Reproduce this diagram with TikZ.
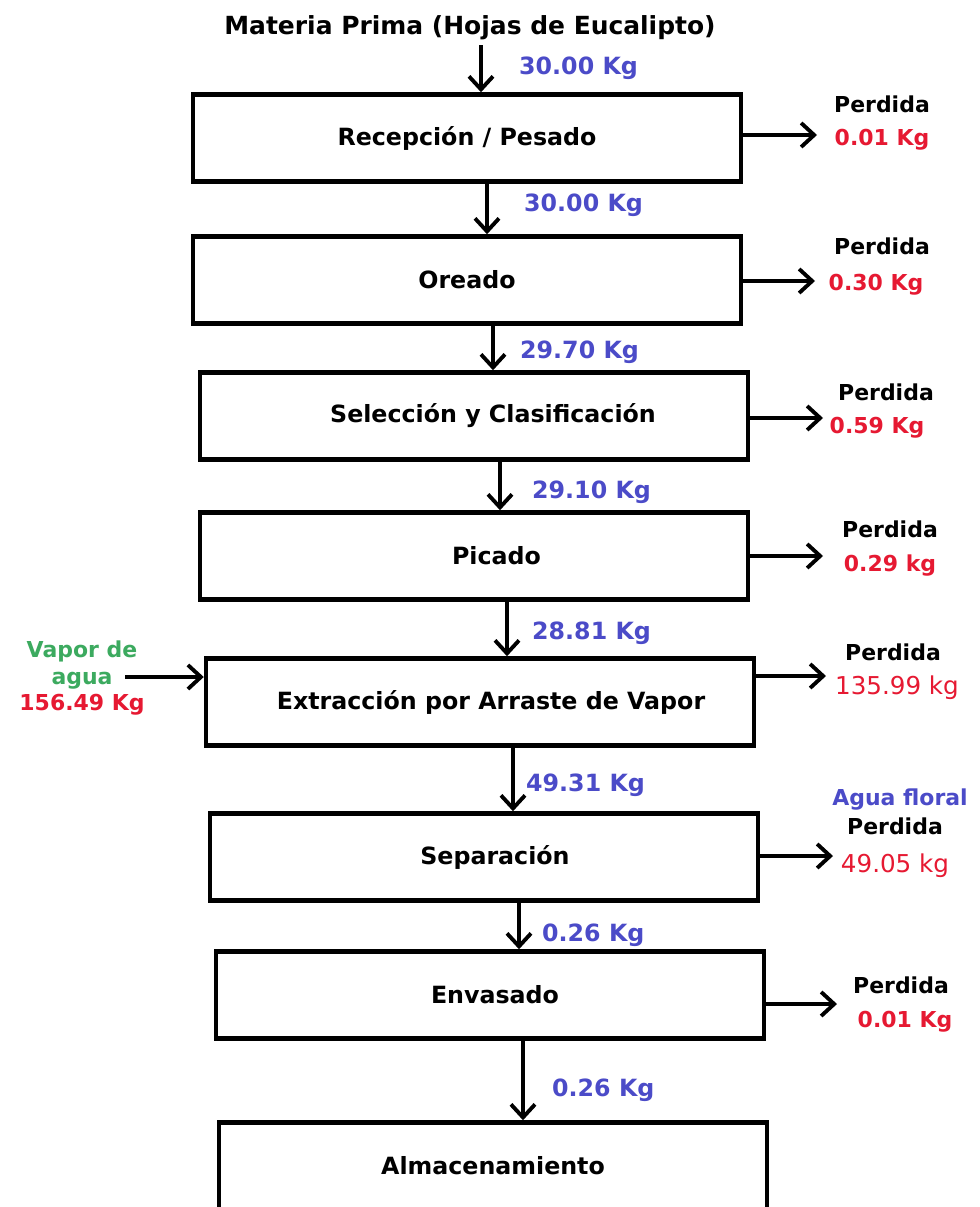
\documentclass[tikz,border=0pt]{standalone}
\usepackage{fontspec}
\setmainfont{DejaVu Sans}
\usetikzlibrary{arrows.meta}
\definecolor{flujo}{RGB}{75,75,200}
\definecolor{merma}{RGB}{230,25,50}
\definecolor{vapor}{RGB}{60,170,95}
\newcommand{\corrx}[1]{\hspace*{#1}}

\begin{document}
\begin{tikzpicture}[x=0.02cm,y=-0.02cm,
	caja/.style={draw,line width=2.6pt,minimum width=10.96cm,minimum height=1.74cm,font=\bfseries\fontsize{13.5}{16}\selectfont},
	flecha/.style={line width=2.2pt,-{Straight Barb[length=2.6mm,width=4.8mm]}},
	masa/.style={anchor=west,text=flujo,font=\bfseries\fontsize{13.5}{16}\selectfont},
	negro/.style={font=\bfseries\fontsize{12.5}{15}\selectfont},
	rojo/.style={text=merma,font=\bfseries\fontsize{12.5}{15}\selectfont},
	rojofino/.style={text=merma,font=\fontsize{14}{16}\selectfont}]
		\useasboundingbox (0,0) rectangle (980,1207);
		\clip (0,0) rectangle (980,1207);
		\fill[white] (0,0) rectangle (980,1207);

		\node[negro,font=\bfseries\fontsize{14.2}{16}\selectfont] (mp) at (470,28) {Materia Prima (Hojas de Eucalipto)};

		\node[caja] (rec) at (467,138) {Recepción / Pesado};
		\node[caja] (ore) at (467,280) {Oreado};
		\node[caja] (sel) at (474,416) {\corrx{0.76cm}Selección y Clasificación};
		\node[caja] (pic) at (474,556) {\corrx{0.9cm}Picado};
		\node[caja] (ext) at (480,702) {\corrx{0.44cm}Extracción por Arraste de Vapor};
		\node[caja] (sep) at (484,857) {\corrx{0.44cm}Separación};
		\node[caja] (env) at (490,995) {\corrx{0.2cm}Envasado};
		\node[caja] (alm) at (493,1166) {Almacenamiento};

		\coordinate (a1) at (481,45);
		\coordinate (a2) at (487,0);
		\coordinate (a3) at (493,0);
		\coordinate (a4) at (500,0);
		\coordinate (a5) at (507,0);
		\coordinate (a6) at (513,0);
		\coordinate (a7) at (519,0);
		\coordinate (a8) at (523,0);

		\draw[flecha] (a1) -- (a1 |- rec.north);
		\draw[flecha] (rec.south -| a2) -- (ore.north -| a2);
		\draw[flecha] (ore.south -| a3) -- (sel.north -| a3);
		\draw[flecha] (sel.south -| a4) -- (pic.north -| a4);
		\draw[flecha] (pic.south -| a5) -- (ext.north -| a5);
		\draw[flecha] (ext.south -| a6) -- (sep.north -| a6);
		\draw[flecha] (sep.south -| a7) -- (env.north -| a7);
		\draw[flecha] (env.south -| a8) -- (alm.north -| a8);

		\node[masa] (m1) at (513,68) {30.00 Kg};
		\node[masa] (m2) at (518,205) {30.00 Kg};
		\node[masa] (m3) at (514,352) {29.70 Kg};
		\node[masa] (m4) at (526,492) {29.10 Kg};
		\node[masa] (m5) at (526,633) {28.81 Kg};
		\node[masa] (m6) at (520,785) {49.31 Kg};
		\node[masa] (m7) at (536,935) {0.26 Kg};
		\node[masa] (m8) at (546,1090) {0.26 Kg};

		\coordinate (p1) at (817,135);
		\coordinate (p2) at (815,281);
		\coordinate (p3) at (823,418);
		\coordinate (p4) at (823,556);
		\coordinate (p5) at (826,676);
		\coordinate (p6) at (833,856);
		\coordinate (p7) at (837,1004);

		\draw[flecha] (rec.east |- p1) -- (p1);
		\draw[flecha] (ore.east |- p2) -- (p2);
		\draw[flecha] (sel.east |- p3) -- (p3);
		\draw[flecha] (pic.east |- p4) -- (p4);
		\draw[flecha] (ext.east |- p5) -- (p5);
		\draw[flecha] (sep.east |- p6) -- (p6);
		\draw[flecha] (env.east |- p7) -- (p7);

		\node[negro] (d1) at (882,104) {Perdida};
		\node[rojo] (v1) at (882,140) {0.01 Kg};
		\node[negro] (d2) at (882,246) {Perdida};
		\node[rojo] (v2) at (876,285) {0.30 Kg};
		\node[negro] (d3) at (886,392) {Perdida};
		\node[rojo] (v3) at (877,428) {0.59 Kg};
		\node[negro] (d4) at (890,529) {Perdida};
		\node[rojo] (v4) at (890,566) {0.29 kg};
		\node[negro] (d5) at (893,652) {Perdida};
		\node[rojofino] (v5) at (897,688) {135.99 kg};
		\node[negro,text=flujo] (af) at (900,800) {Agua floral};
		\node[negro] (d6) at (895,826) {Perdida};
		\node[rojofino] (v6) at (895,866) {49.05 kg};
		\node[negro] (d7) at (901,985) {Perdida};
		\node[rojo] (v7) at (905,1022) {0.01 Kg};

		\node[negro,text=vapor,align=center] (va) at (82,665) {Vapor de\\agua};
		\node[rojo] (vv) at (82,705) {156.49 Kg};
		\coordinate (e1) at (125,677);
		\draw[flecha] (e1) -- (e1 -| ext.west);
	\end{tikzpicture}
\end{document}
